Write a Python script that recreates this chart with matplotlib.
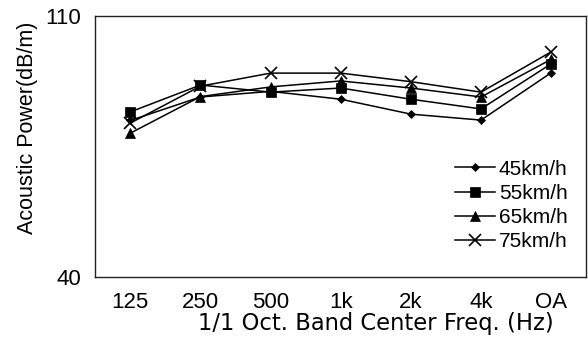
import matplotlib
matplotlib.use("Agg")
import matplotlib.pyplot as plt
import numpy as np

plt.rcParams["font.family"] = ["Liberation Sans", "DejaVu Sans"]

bands = ["125", "250", "500", "1k", "2k", "4k", "OA"]
speed_45 = [82.0, 88.3, 89.8, 87.7, 83.7, 82.1, 94.8]
speed_55 = [84.3, 91.5, 89.6, 90.7, 87.7, 85.1, 97.2]
speed_65 = [78.6, 88.4, 91.0, 92.6, 90.7, 88.3, 98.4]
speed_75 = [81.3, 91.2, 94.7, 94.7, 92.4, 89.6, 100.4]

series = [
    ("45km/h", speed_45, "D", 4.5),
    ("55km/h", speed_55, "s", 6.5),
    ("65km/h", speed_65, "^", 6.5),
    ("75km/h", speed_75, "x", 8),
]

fig = plt.figure(figsize=(5.88, 3.49), dpi=100)
ax = fig.add_axes([0.162, 0.206, 0.835, 0.748])

x = np.arange(len(bands))
for label, values, marker, size in series:
    ax.plot(x, values, color="black", linewidth=1.1, marker=marker,
            markersize=size, markeredgewidth=1.2 if marker == "x" else 0.5,
            label=label)

ax.set_xlim(-0.5, len(bands) - 0.5)
ax.set_ylim(40, 110)
ax.set_yticks([40, 110])
ax.set_xticks(x)
ax.set_xticklabels(bands)
ax.tick_params(axis="both", length=0, labelsize=16, pad=11)
ax.tick_params(axis="y", pad=10)
for spine in ax.spines.values():
    spine.set_linewidth(1.0)
    spine.set_color("#222222")

ax.set_xlabel("1/1 Oct. Band Center Freq. (Hz)", fontsize=16.3,
              family=["DejaVu Sans"])
ax.xaxis.set_label_coords(0.572, -0.132)
ax.set_ylabel("Acoustic Power(dB/m)", fontsize=15.5)
ax.yaxis.set_label_coords(-0.116, 0.573)

ax.legend(loc="upper right", bbox_to_anchor=(0.962, 0.45), frameon=False,
          fontsize=15, handlelength=1.9, handletextpad=0.2,
          labelspacing=0.25, borderaxespad=0.0, borderpad=0.0)

fig.savefig("out.png", dpi=100)
